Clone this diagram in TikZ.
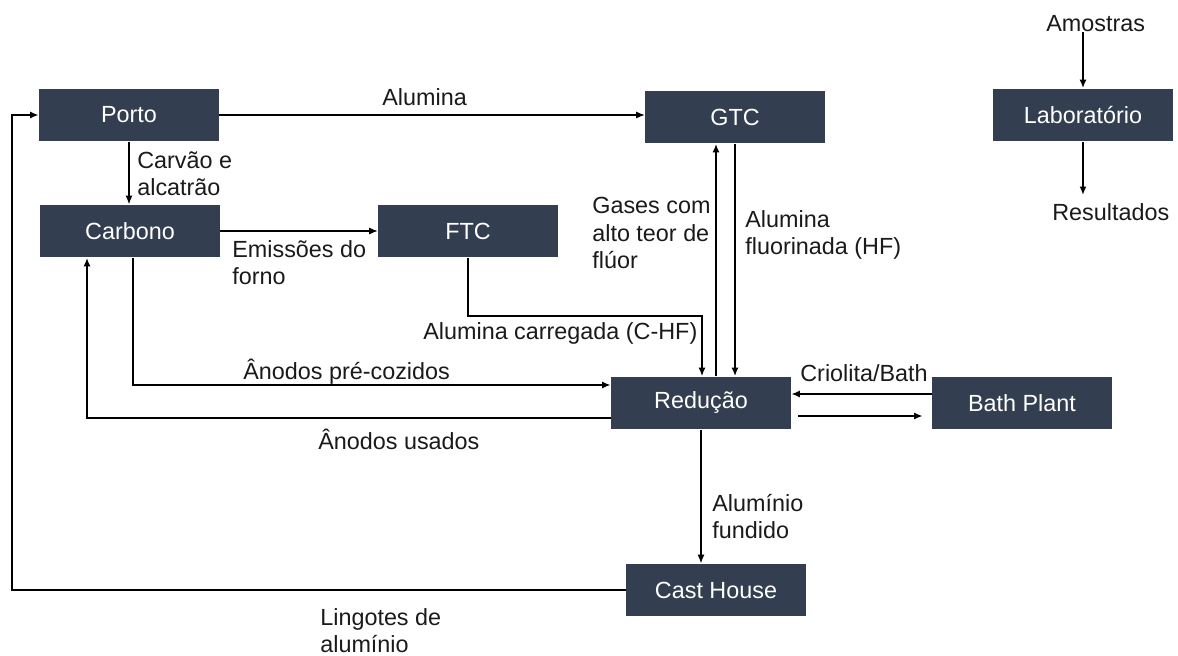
\documentclass[tikz,border=0pt]{standalone}
\usepackage{fontspec}
\setmainfont{Liberation Sans}
\usetikzlibrary{arrows.meta}
\usetikzlibrary{calc}
\tikzset{>={Latex[length=0.17cm,width=0.14cm]}}
\definecolor{boxfill}{HTML}{333F50}
\definecolor{labeltext}{HTML}{1A1A1A}

\tikzset{
  area/.style={fill=boxfill, text=white, minimum width=3.6cm, minimum height=1.06cm, inner sep=0pt},
  flow/.style={->, line width=1pt},
  thinflow/.style={->, line width=0.6pt},
  lbl/.style={align=left, inner sep=0pt, text=labeltext, anchor=north west},
  every node/.style={font=\fontsize{13.3}{15.6}\selectfont}
}

\begin{document}
\begin{tikzpicture}[x=0.02cm, y=-0.02cm]
            \useasboundingbox (0,0) rectangle (1178,656);
            % process areas
            \node[area] (porto) at (129,115) {Porto};
            \node[area] (carbono) at (130,231) {Carbono};
            \node[area] (ftc) at (468,231) {FTC};
            \node[area] (gtc) at (735,117) {GTC};
            \node[area] (lab) at (1083,115) {Laboratório};
            \node[area] (reducao) at (701,403) {Redução};
            \node[area] (bath) at (1022,403) {Bath Plant};
            \node[area] (cast) at (716,590) {Cast House};

            \node[lbl] (amostras) at (1046,15) {Amostras};
            \node[lbl] (resultados) at (1052,203) {Resultados};

            % flows
            \draw[thinflow] (porto.east) -- (porto.east -| gtc.west);
            \draw[thinflow] (porto.south) -- (porto.south |- carbono.north);
            \draw[thinflow] (carbono.east) -- (ftc.west);
            \draw[flow] ($(carbono.south)+(3,0)$) |- ($(reducao.west)+(0,-18)$);
            \draw[flow] ($(reducao.west)+(0,15)$) -| ($(carbono.south)+(-43,0)$);
            \draw[line width=0.8pt, ->] (ftc.south) -- ++(0,58) -| ($(reducao.north)+(1,0)$);
            \coordinate (gasup) at ($(reducao.north)+(15,0)$);
            \draw[flow] (gasup) -- (gasup |- gtc.south);
            \draw[flow] (gtc.south) -- (gtc.south |- reducao.north);
            \coordinate (bathout) at ($(bath.west)+(0,-9)$);
            \draw[flow] (bathout) -- (bathout -| reducao.east);
            \coordinate (bathin) at ($(reducao.east)+(0,13)$);
            \draw[flow, shorten <=0.14cm, shorten >=0.18cm] (bathin) -- (bathin -| bath.west);
            \draw[thinflow] (reducao.south) -- (reducao.south |- cast.north);
            \draw[flow] (cast.west) -- ++(-614,0) |- (porto.west);
            \draw[flow] (amostras.south -| lab.north) -- (lab.north);
            \draw[flow, shorten >=0.16cm] (lab.south) -- (lab.south |- resultados.north);

            % labels
            \node[lbl] (lalumina) at (382,88) {Alumina};
            \node[lbl] (lcarvao) at (137,151) {Carvão e\\alcatrão};
            \node[lbl] (lemissoes) at (232,240) {Emissões do\\forno};
            \node[lbl] (lgases) at (592,197) {Gases com\\alto teor de\\flúor};
            \node[lbl] (lfluor) at (745,210) {Alumina\\fluorinada (HF)};
            \node[lbl] (lcarregada) at (423,322) {Alumina carregada (C-HF)};
            \node[lbl] (lprecoz) at (243,359) {Ânodos pré-cozidos};
            \node[lbl] (lusados) at (318,429) {Ânodos usados};
            \node[lbl] (lcriolita) at (800,364) {Criolita/Bath};
            \node[lbl] (lfundido) at (712,494) {Alumínio\\fundido};
            \node[lbl] (llingotes) at (320,608) {Lingotes de\\alumínio};
        \end{tikzpicture}
\end{document}
